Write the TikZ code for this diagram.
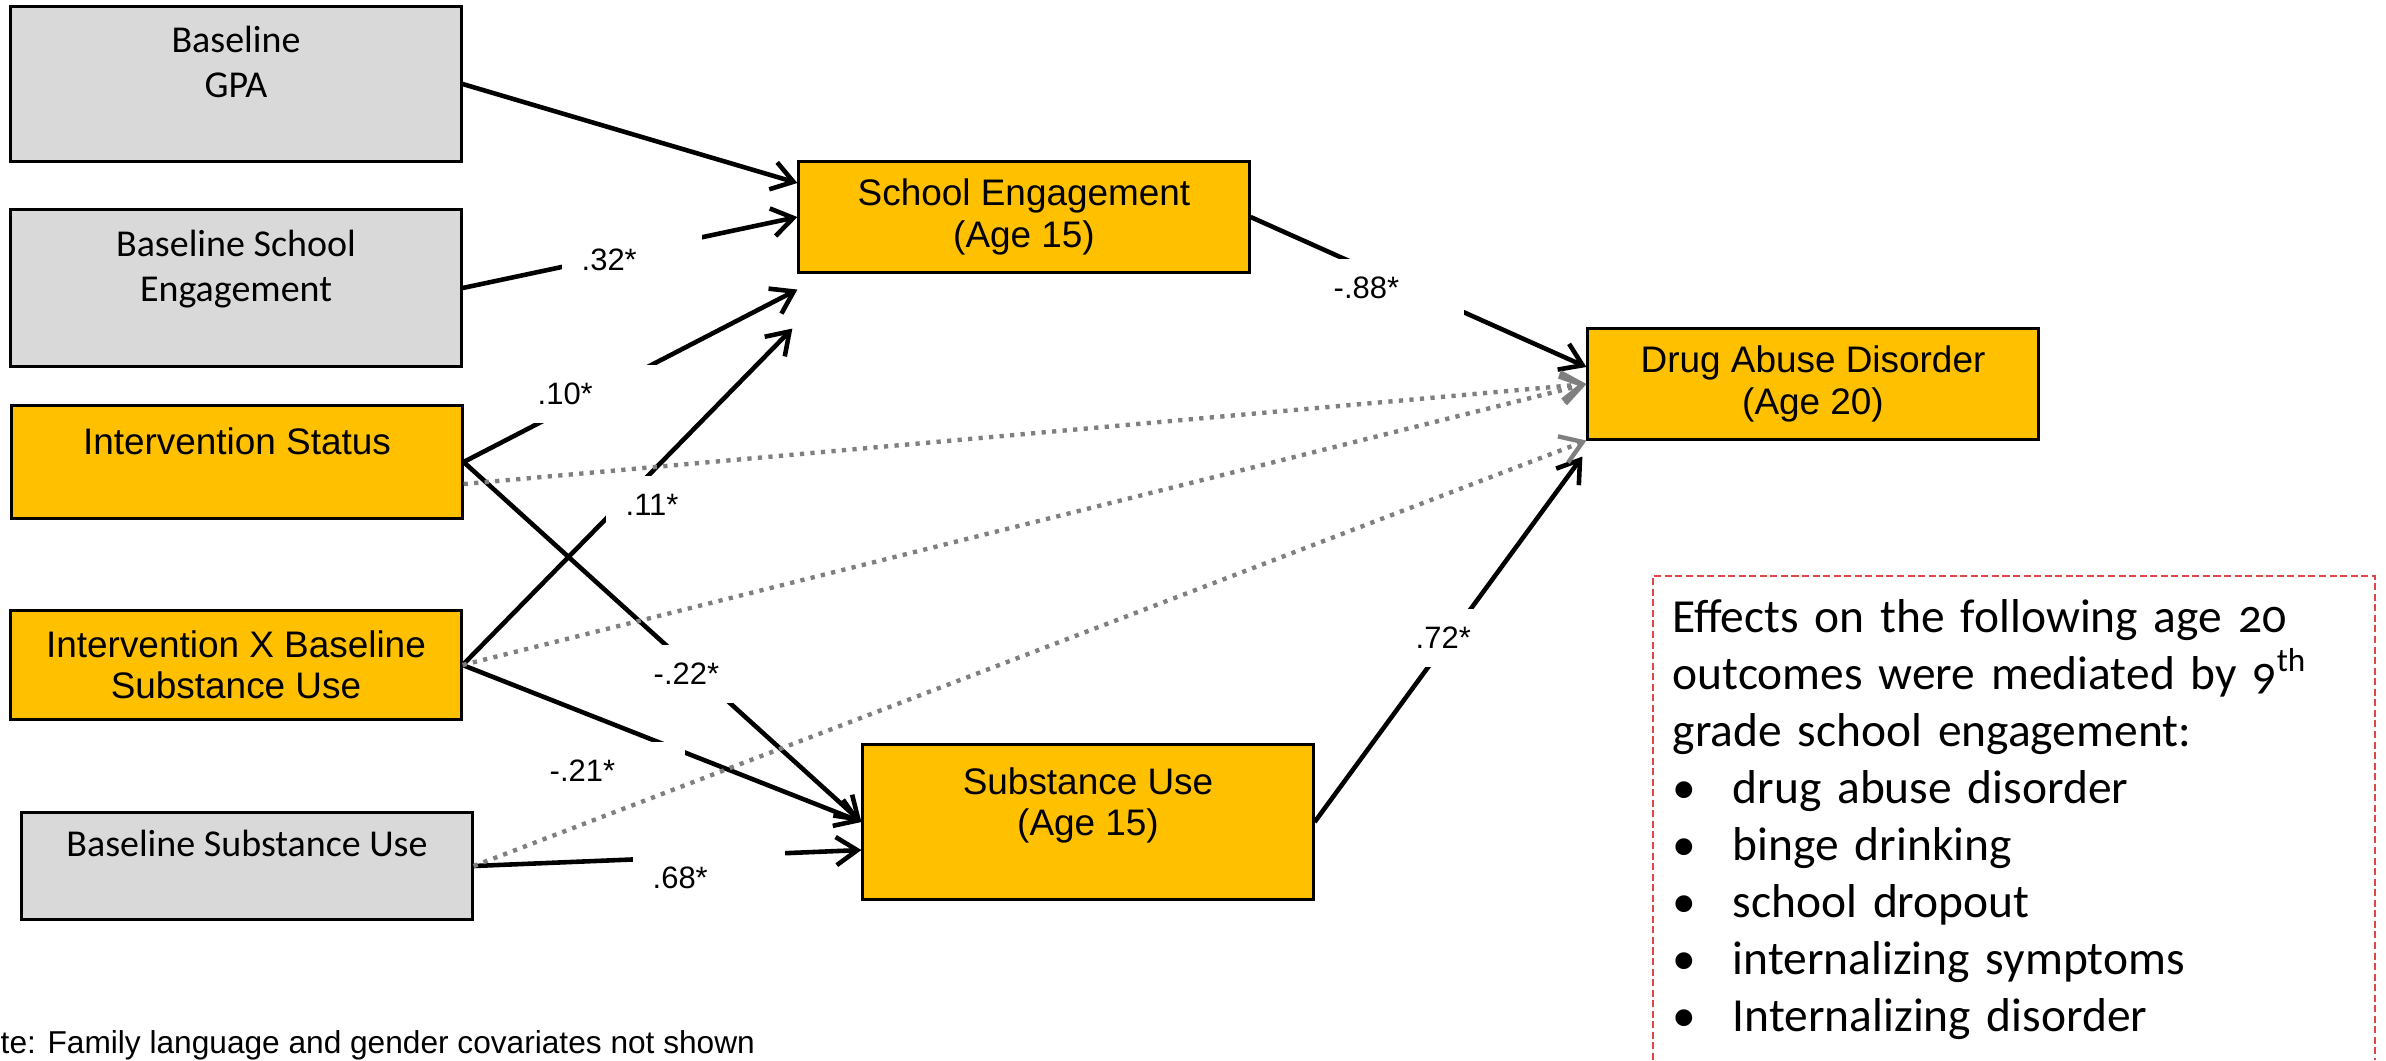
\documentclass[tikz,border=0pt]{standalone}
\usepackage{fontspec}
\setmainfont{Liberation Sans}
\newfontfamily\calfont{Carlito}
\newfontfamily\calold{Carlito}[Numbers=OldStyle]
\usetikzlibrary{arrows.meta}
\definecolor{boxgold}{HTML}{FFC000}
\definecolor{boxgray}{HTML}{D9D9D9}
\definecolor{dotgray}{HTML}{7F7F7F}
\definecolor{notered}{HTML}{E04646}

\begin{document}
\begin{tikzpicture}[x=0.01cm,y=-0.01cm]
		\tikzstyle{VAR}=[rectangle,draw=black,line width=0.85pt,align=center,minimum width=4.5cm]
		\tikzstyle{BASE}=[VAR,fill=boxgray,font=\calfont\fontsize{10.8}{12.8}\selectfont]
		\tikzstyle{KEY}=[VAR,fill=boxgold,font=\fontsize{10.5}{11.7}\selectfont]
		\tikzstyle{COEF}=[fill=white,anchor=west,text width=1cm,align=left,inner xsep=0.2cm,inner ysep=0pt,minimum height=0.58cm,font=\fontsize{8.8}{10}\selectfont]
		\tikzstyle{SIG}=[-{Straight Barb[length=6pt,width=8pt]},line width=1.3pt]
		\tikzstyle{NSIG}=[SIG,color=dotgray,line width=1.25pt,dash pattern=on 1.2pt off 1.8pt]
		\useasboundingbox (0,0) rectangle (2386,1060);

		\node[BASE,minimum height=1.55cm] (b-gpa) at (236,84)  {Baseline\\GPA\\\mbox{}};
		\node[BASE,minimum height=1.57cm] (b-se)  at (236,288) {Baseline School\\Engagement\\\mbox{}};
		\node[KEY,minimum height=1.12cm]  (i-st)  at (237,462) {Intervention Status\\\mbox{}};
		\node[KEY,minimum height=1.08cm]  (i-x)   at (236,665) {Intervention X Baseline\\Substance Use};
		\node[BASE,minimum height=1.07cm] (b-su)  at (247,866) {Baseline Substance Use\\\mbox{}};
		\node[KEY,minimum height=1.1cm]   (se-15) at (1024,217) {School Engagement\\(Age 15)};
		\node[KEY,minimum height=1.55cm]  (su-15) at (1088,822) {Substance Use\\(Age 15)\\\mbox{}};
		\node[KEY,minimum height=1.1cm]   (dad-20) at (1813,384) {Drug Abuse Disorder\\(Age 20)};

		\path[SIG]
		(b-gpa.east) edge ([yshift=0.34cm]se-15.west)
		(b-se.east) edge (se-15.west)
		(i-st.east) edge ([yshift=-0.16cm]se-15.south west)
		(i-x.east) edge ([xshift=-0.05cm,yshift=-0.55cm]se-15.south west)
		(i-st.east) edge (su-15.west)
		(i-x.east) edge (su-15.west)
		(b-su.east) edge ([yshift=-0.28cm]su-15.west)
		(se-15.east) edge ([yshift=0.17cm]dad-20.west)
		(su-15.east) edge ([xshift=-0.04cm,yshift=-0.16cm]dad-20.south west)
		;

		\node[COEF] (c-32) at (561,260) {.32*};
		\node[COEF] (c-10) at (517,394) {.10*};
		\node[COEF] (c-11) at (605,505) {.11*};
		\node[COEF] (c-22) at (633,674) {-.22*};
		\node[COEF,text width=1.15cm] (c-21) at (529,771) {-.21*};
		\node[COEF,text width=1.12cm] (c-68) at (632,878) {.68*};
		\node[COEF,text width=1.1cm] (c-88) at (1313,288) {-.88*};
		\node[COEF] (c-72) at (1395,638) {.72*};

		\path[NSIG]
		([yshift=-0.22cm]i-st.east) edge (dad-20.west)
		(i-x.east) edge (dad-20.west)
		(b-su.east) edge (dad-20.south west)
		;

		\draw[notered,line width=0.6pt,dash pattern=on 2pt off 1pt] (1653,1060) -- (1653,576) -- (2375,576) -- (2375,1060);
		\node[anchor=north west,inner sep=0pt,text width=7cm,align=left,font=\calold\fontsize{13.5}{16.2}\selectfont] (med) at (1672,599)
		{Effects on the following age 20\\
		outcomes were mediated by 9\textsuperscript{th}\\
		grade school engagement:\\
		\makebox[0.6cm][l]{•}drug abuse disorder\\
		\makebox[0.6cm][l]{•}binge drinking\\
		\makebox[0.6cm][l]{•}school dropout\\
		\makebox[0.6cm][l]{•}internalizing symptoms\\
		\makebox[0.6cm][l]{•}Internalizing disorder};

		\node[anchor=base west,inner sep=0pt,font=\fontsize{9}{11}\selectfont] (note) at (0,1053) {te: Family language and gender covariates not shown};
		\end{tikzpicture}
\end{document}
